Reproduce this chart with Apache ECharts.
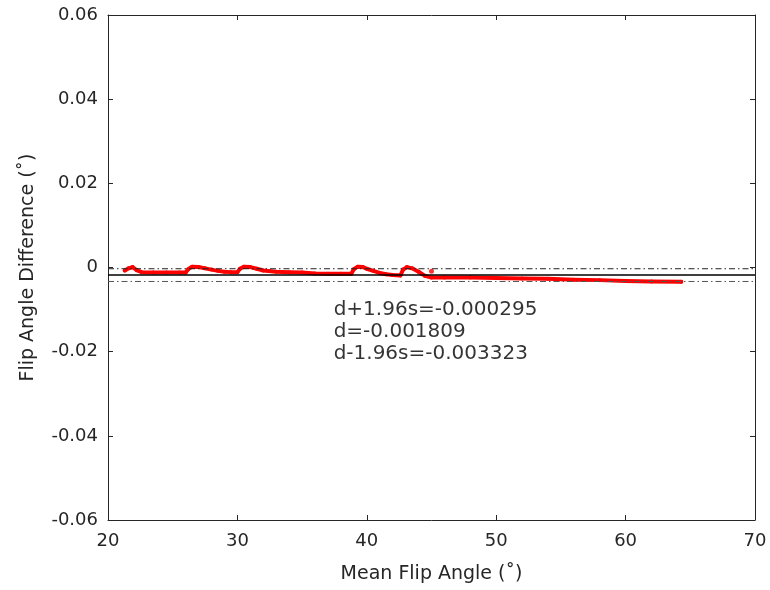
<!DOCTYPE html>
<html>
<head>
<meta charset="utf-8">
<script src="https://cdn.jsdelivr.net/npm/echarts@6/dist/echarts.min.js"></script>
<style>html,body{margin:0;padding:0;background:#fff}#c{width:770px;height:590px}</style>
</head>
<body>
<div id="c"></div>
<script>
// ---- data ----
const meanX = [21.3,21.6,21.9,22.2,22.6,23.5,24.5,25.5,26.0,
  26.2,26.5,27.0,27.5,28.0,28.5,29.0,29.5,30.0,
  30.2,30.5,31.0,31.5,32.0,33.0,34.0,35.0,36.0,37.0,38.0,38.8,
  39.0,39.3,39.7,40.0,40.5,41.0,41.5,42.0,42.6,
  42.8,43.1,43.5,44.0,44.5,45.0,46,48,50,52,54,56,58,60,62,64.3];
const diffY = [-0.0007,-0.0002,0.0001,-0.0006,-0.0011,-0.0012,-0.0012,-0.0012,-0.0012,
  -0.0004,0.0002,0.0001,-0.0002,-0.0005,-0.0008,-0.0010,-0.0011,-0.0011,
  -0.0003,0.0002,0.0001,-0.0003,-0.0007,-0.0010,-0.0011,-0.0012,-0.0014,-0.0015,-0.0015,-0.0015,
  -0.0004,0.0002,0.0001,-0.0003,-0.0008,-0.0013,-0.0016,-0.0018,-0.0019,
  -0.0005,0.0001,-0.0002,-0.0010,-0.0020,-0.0024,-0.0024,-0.0024,-0.0025,-0.0026,-0.0027,-0.0029,-0.0030,-0.0032,-0.0033,-0.0034];
const outlierX = [45.0];
const outlierY = [-0.0009];
const upperLoA = -0.000295;
const meanDiff = -0.001809;
const lowerLoA = -0.003323;
const annotLines = ['d+1.96s=-0.000295', 'd=-0.001809', 'd-1.96s=-0.003323'];
const annotX = 37.4;
const annotY = [-0.0100, -0.01525, -0.0205];
const xTicks = [20,30,40,50,60,70];
const yTicks = [-0.06,-0.04,-0.02,0,0.02,0.04,0.06];

const txt = '#262626';
const font = 'DejaVu Sans';
const chart = echarts.init(document.getElementById('c'));
const axisCommon = {
  axisLine: {show: true, onZero: false, lineStyle: {color: txt, width: 1}},
  axisTick: {show: true, inside: true, length: 5, lineStyle: {color: txt}},
  splitLine: {show: false}
};
chart.setOption({
  backgroundColor: '#fff',
  animation: false,
  textStyle: {fontFamily: font},
  grid: {left: 108, right: 15, top: 15, bottom: 70},
  xAxis: [
    Object.assign({type: 'value', position: 'bottom', min: xTicks[0], max: xTicks[xTicks.length-1], interval: 10,
      name: 'Mean Flip Angle (˚)', nameLocation: 'middle', nameGap: 45,
      nameTextStyle: {color: txt, fontSize: 19, fontFamily: font},
      axisLabel: {color: txt, fontSize: 18, fontFamily: font, margin: 12}}, axisCommon),
    Object.assign({type: 'value', position: 'top', min: xTicks[0], max: xTicks[xTicks.length-1], interval: 10,
      axisLabel: {show: false}}, axisCommon)
  ],
  yAxis: [
    Object.assign({type: 'value', position: 'left', min: yTicks[0], max: yTicks[yTicks.length-1], interval: 0.02,
      name: 'Flip Angle Difference (˚)', nameLocation: 'middle', nameGap: 70, nameRotate: 90,
      nameTextStyle: {color: txt, fontSize: 19, fontFamily: font},
      axisLabel: {color: txt, fontSize: 18, fontFamily: font, margin: 10,
        formatter: v => Math.abs(v) < 1e-9 ? '0' : v.toFixed(2)}}, axisCommon),
    Object.assign({type: 'value', position: 'right', min: yTicks[0], max: yTicks[yTicks.length-1], interval: 0.02,
      axisLabel: {show: false}}, axisCommon)
  ],
  series: [
    {
      type: 'line',
      data: meanX.map((x, i) => [x, diffY[i]]),
      symbol: 'circle', symbolSize: 4, showSymbol: true,
      itemStyle: {color: '#ff0000'},
      lineStyle: {color: '#ff0000', width: 4, cap: 'round', join: 'round'},
      z: 2
    },
    {
      type: 'scatter',
      data: outlierX.map((x, i) => [x, outlierY[i]]),
      symbolSize: 5,
      itemStyle: {color: '#ff0000'},
      z: 2
    },
    {
      type: 'line',
      data: [[xTicks[0], meanDiff], [xTicks[xTicks.length-1], meanDiff]],
      symbol: 'none',
      lineStyle: {color: '#000', width: 1.5},
      z: 5
    },
    {
      type: 'line',
      data: [[xTicks[0], upperLoA], [xTicks[xTicks.length-1], upperLoA]],
      symbol: 'none',
      lineStyle: {color: '#222', width: 1, type: [6, 3, 1.5, 3]},
      z: 5
    },
    {
      type: 'line',
      data: [[xTicks[0], lowerLoA], [xTicks[xTicks.length-1], lowerLoA]],
      symbol: 'none',
      lineStyle: {color: '#555', width: 1, type: [6, 3, 1.5, 3]},
      z: 5
    },
    {
      type: 'scatter',
      data: annotY.map((y, i) => ({value: [annotX, y], label: {show: true, formatter: annotLines[i]}})),
      symbol: 'circle',
      symbolSize: 1,
      itemStyle: {color: 'rgba(0,0,0,0)'},
      label: {show: true, position: 'right', distance: 0, color: '#000', fontSize: 20, fontFamily: font},
      silent: true,
      z: 6
    }
  ]
});
</script>
</body>
</html>
